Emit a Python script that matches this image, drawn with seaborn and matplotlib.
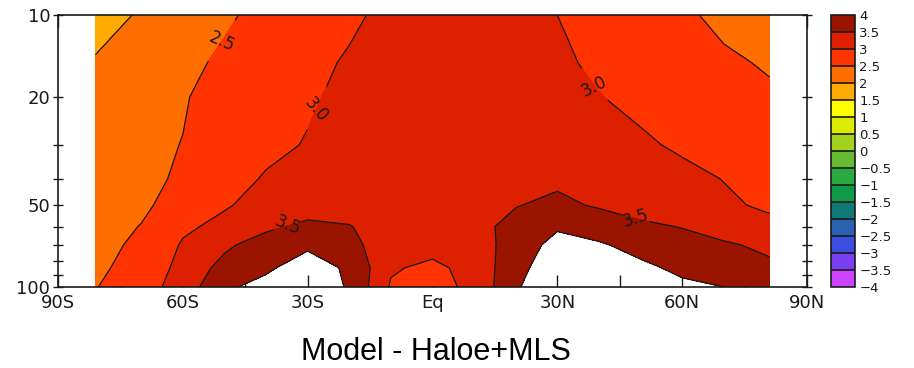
import numpy as np
import matplotlib
matplotlib.use("Agg")
import matplotlib.pyplot as plt
import matplotlib.colors as mcolors
import matplotlib.ticker as mticker
import seaborn as sns

# latitude / pressure grid of the difference field (Model - Haloe+MLS)
lats = [-81, -70, -60, -50, -40, -30, -20, -10, 0, 10, 20, 30, 40, 50, 60, 70, 81]
plevs = [10, 15, 20, 30, 40, 50, 60, 70, 85, 100]

row_10 = [1.80, 2.05, 2.25, 2.45, 2.60, 2.75, 2.93, 3.10, 3.25, 3.20, 3.10, 3.00, 2.85, 2.70, 2.57, 2.40, 2.25]
row_15 = [2.05, 2.20, 2.40, 2.57, 2.72, 2.88, 3.05, 3.20, 3.30, 3.25, 3.15, 3.05, 2.95, 2.83, 2.70, 2.58, 2.45]
row_20 = [2.15, 2.30, 2.47, 2.65, 2.80, 2.95, 3.10, 3.22, 3.30, 3.28, 3.20, 3.10, 3.01, 2.93, 2.83, 2.70, 2.58]
row_30 = [2.22, 2.40, 2.51, 2.72, 2.88, 3.03, 3.15, 3.25, 3.30, 3.30, 3.27, 3.20, 3.13, 3.05, 2.95, 2.82, 2.68]
row_40 = [2.28, 2.43, 2.54, 2.78, 3.05, 3.15, 3.25, 3.30, 3.32, 3.35, 3.40, 3.42, 3.30, 3.20, 3.10, 2.99, 2.80]
row_50 = [2.33, 2.45, 2.62, 2.96, 3.15, 3.30, 3.33, 3.30, 3.28, 3.35, 3.48, 3.60, 3.45, 3.30, 3.20, 3.07, 2.93]
row_60 = [2.38, 2.51, 2.92, 3.12, 3.42, 3.60, 3.52, 3.30, 3.25, 3.35, 3.65, 3.95, 3.80, 3.60, 3.48, 3.30, 3.12]
row_70 = [2.42, 2.55, 3.05, 3.42, 3.70, 3.95, 3.60, 3.30, 3.15, 3.22, 3.75, 4.15, 4.05, 3.85, 3.70, 3.56, 3.40]
row_85 = [2.45, 2.60, 3.18, 3.65, 3.95, 4.15, 3.95, 3.05, 2.90, 3.15, 3.85, 4.30, 4.25, 4.10, 3.90, 3.75, 3.60]
row_100 = [2.48, 2.80, 3.20, 3.95, 4.10, 4.20, 3.97, 2.95, 2.85, 3.10, 3.95, 4.35, 4.35, 4.25, 4.10, 4.00, 3.75]

levels = [-4, -3.5, -3, -2.5, -2, -1.5, -1, -0.5, 0, 0.5, 1, 1.5, 2, 2.5, 3, 3.5, 4]
plain_levels = [2.0, 4.0]
labelled_levels = [2.5, 3.0, 3.5]
xtick_vals = [-90, -60, -30, 0, 30, 60, 90]
xtick_labels = ["90S", "60S", "30S", "Eq", "30N", "60N", "90N"]
ytick_vals = [10, 20, 50, 100]

grads_colors = ["#cc44ff", "#7a3ff0", "#3c4ee0", "#2c60b0", "#117878", "#0f9a48",
                "#2aab40", "#66bb33", "#a2d21e", "#dcec00", "#ffff00", "#ffaa00",
                "#ff6e00", "#ff3400", "#dc2000", "#9a1400"]

sns.set_theme(style="white")
plt.rcParams["font.family"] = ["DejaVu Sans"]
plt.rcParams["text.color"] = "black"
plt.rcParams["xtick.color"] = "black"
plt.rcParams["ytick.color"] = "black"
plt.rcParams["axes.labelcolor"] = "black"

field = np.array([row_10, row_15, row_20, row_30, row_40, row_50,
                  row_60, row_70, row_85, row_100])
cmap = mcolors.ListedColormap(sns.color_palette(grads_colors))
norm = mcolors.BoundaryNorm(levels, cmap.N)

fig = plt.figure(figsize=(9.14, 3.68), dpi=100)
ax = fig.add_axes([58 / 914, 1 - 287 / 368, 749 / 914, 272 / 368])

ax.contourf(lats, plevs, field, levels=levels, cmap=cmap, norm=norm)
ax.contour(lats, plevs, field, levels=plain_levels, colors="k", linewidths=0.9)
cs = ax.contour(lats, plevs, field, levels=labelled_levels, colors="k", linewidths=0.9)
label_spots = [(-50.6, 12.7), (-27.5, 22.7), (39, 18.1), (-34.2, 61.7), (48.7, 56.7)]
ax.clabel(cs, fmt="%.1f", fontsize=12, inline=True, inline_spacing=3,
          manual=label_spots)

ax.set_yscale("log")
ax.set_ylim(100, 10)
ax.set_xlim(-90, 90)
ax.set_xticks(xtick_vals)
ax.set_xticklabels(xtick_labels)
ax.xaxis.set_minor_locator(mticker.FixedLocator([-75, -45, -15, 15, 45, 75]))
ax.set_yticks(ytick_vals)
ax.yaxis.set_major_formatter(mticker.FixedFormatter(["10", "20", "50", "100"]))
ax.yaxis.set_minor_locator(mticker.FixedLocator([30, 40, 60, 70, 80, 90]))
ax.yaxis.set_minor_formatter(mticker.NullFormatter())
ax.tick_params(axis="x", which="both", direction="in", length=9, width=1,
               top=True, bottom=True, labelsize=13, pad=5, colors="k")
ax.tick_params(axis="y", which="both", direction="inout", length=7, width=1,
               left=True, right=True, labelsize=13, pad=2, colors="k")
for sp in ax.spines.values():
    sp.set_color("k")
    sp.set_linewidth(1.2)
ax.set_xlabel("")
ax.set_ylabel("")

cax = fig.add_axes([831 / 914, 1 - 287 / 368, 24 / 914, 272 / 368])
cb = matplotlib.colorbar.ColorbarBase(cax, cmap=cmap, norm=norm, boundaries=levels,
                                      ticks=levels, drawedges=True)
cb.outline.set_edgecolor("k")
cb.outline.set_linewidth(1.2)
cb.dividers.set_color("k")
cb.dividers.set_linewidth(1.2)
cb.ax.set_yticklabels([f"{v:g}".replace("-", "\u2212") for v in levels])
cb.ax.tick_params(length=0, labelsize=9.5, pad=3, colors="k")

fig.text(436 / 914, 1 - 352 / 368, "Model - Haloe+MLS", ha="center", va="center",
         fontsize=22, color="black", family=["Liberation Sans", "DejaVu Sans"])

fig.savefig("out.png", dpi=100)
